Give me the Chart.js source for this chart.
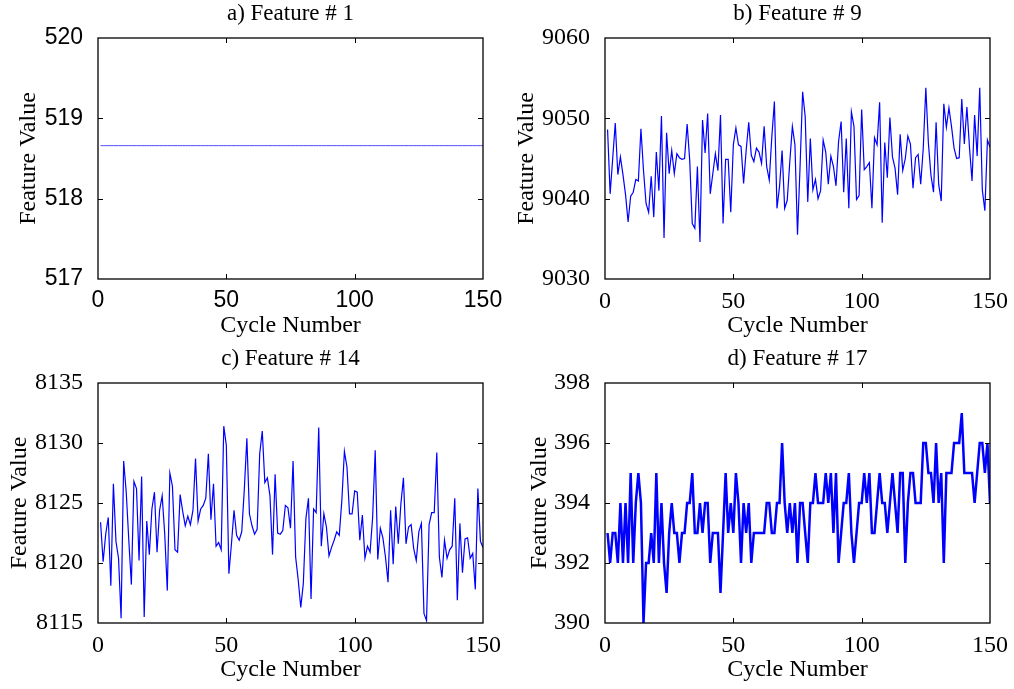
<!DOCTYPE html>
<html lang="en">
<head>
    <meta charset="UTF-8">
    <title>Feature values vs cycle number</title>
    <style>
        body {
            margin: 0;
            background: #fff;
        }
        canvas {
            position: absolute;
        }
    </style>
    <script src="https://cdn.jsdelivr.net/npm/chart.js"></script>
</head>
<body>
    <canvas id="chartA" width="507" height="345" style="left:0;top:0"></canvas>
    <canvas id="chartB" width="507" height="345" style="left:507px;top:0"></canvas>
    <canvas id="chartC" width="507" height="344" style="left:0;top:345px"></canvas>
    <canvas id="chartD" width="507" height="344" style="left:507px;top:345px"></canvas>

    <script>
        // Feature # 1 is flat over all 150 cycles
        const featureA = [
            518.66, 518.66, 518.66, 518.66, 518.66, 518.66, 518.66, 518.66, 518.66, 518.66,
            518.66, 518.66, 518.66, 518.66, 518.66, 518.66, 518.66, 518.66, 518.66, 518.66,
            518.66, 518.66, 518.66, 518.66, 518.66, 518.66, 518.66, 518.66, 518.66, 518.66,
            518.66, 518.66, 518.66, 518.66, 518.66, 518.66, 518.66, 518.66, 518.66, 518.66,
            518.66, 518.66, 518.66, 518.66, 518.66, 518.66, 518.66, 518.66, 518.66, 518.66,
            518.66, 518.66, 518.66, 518.66, 518.66, 518.66, 518.66, 518.66, 518.66, 518.66,
            518.66, 518.66, 518.66, 518.66, 518.66, 518.66, 518.66, 518.66, 518.66, 518.66,
            518.66, 518.66, 518.66, 518.66, 518.66, 518.66, 518.66, 518.66, 518.66, 518.66,
            518.66, 518.66, 518.66, 518.66, 518.66, 518.66, 518.66, 518.66, 518.66, 518.66,
            518.66, 518.66, 518.66, 518.66, 518.66, 518.66, 518.66, 518.66, 518.66, 518.66,
            518.66, 518.66, 518.66, 518.66, 518.66, 518.66, 518.66, 518.66, 518.66, 518.66,
            518.66, 518.66, 518.66, 518.66, 518.66, 518.66, 518.66, 518.66, 518.66, 518.66,
            518.66, 518.66, 518.66, 518.66, 518.66, 518.66, 518.66, 518.66, 518.66, 518.66,
            518.66, 518.66, 518.66, 518.66, 518.66, 518.66, 518.66, 518.66, 518.66, 518.66,
            518.66, 518.66, 518.66, 518.66, 518.66, 518.66, 518.66, 518.66, 518.66, 518.66
        ];

        const featureB = [
            9048.6, 9040.6, 9045.0, 9049.4, 9043.0, 9045.2, 9043.0, 9040.5, 9037.1, 9040.3,
            9040.8, 9042.4, 9042.2, 9048.7, 9043.5, 9039.4, 9038.3, 9042.8, 9037.7, 9045.8,
            9041.0, 9050.3, 9035.1, 9048.2, 9043.1, 9046.0, 9043.1, 9045.6, 9045.1, 9044.9,
            9045.0, 9049.3, 9044.8, 9036.9, 9036.3, 9044.0, 9034.6, 9049.8, 9045.7, 9050.6,
            9040.6, 9043.1, 9045.6, 9043.5, 9050.4, 9036.9, 9044.9, 9044.9, 9038.3, 9046.7,
            9048.8, 9046.7, 9046.5, 9041.9, 9046.0, 9049.5, 9045.4, 9044.6, 9046.3, 9045.8,
            9044.4, 9049.0, 9044.0, 9042.3, 9047.7, 9052.1, 9038.8, 9041.5, 9046.0, 9038.8,
            9039.8, 9044.6, 9049.0, 9046.7, 9035.5, 9044.0, 9053.3, 9050.2, 9039.6, 9047.5,
            9041.1, 9042.4, 9040.0, 9041.0, 9047.3, 9045.8, 9041.8, 9045.3, 9044.0, 9041.6,
            9047.1, 9049.6, 9040.8, 9047.5, 9038.8, 9050.8, 9049.0, 9039.9, 9040.4, 9051.1,
            9043.6, 9044.0, 9044.5, 9038.8, 9047.6, 9046.7, 9052.0, 9037.0, 9047.0, 9042.6,
            9050.1, 9045.2, 9043.8, 9040.5, 9048.0, 9043.5, 9045.0, 9047.8, 9046.8, 9041.3,
            9045.1, 9045.5, 9041.8, 9046.3, 9053.8, 9046.9, 9042.9, 9040.8, 9049.5, 9041.8,
            9039.7, 9051.8, 9048.9, 9051.3, 9049.0, 9046.3, 9045.0, 9045.1, 9052.4, 9046.8,
            9051.4, 9046.4, 9042.2, 9050.4, 9045.3, 9053.8, 9041.1, 9038.5, 9047.3, 9046.4
        ];

        const featureC = [
            8123.4, 8120.1, 8122.4, 8123.8, 8118.1, 8126.6, 8121.8, 8120.4, 8115.4, 8128.5,
            8125.9, 8121.9, 8118.2, 8126.8, 8126.2, 8120.2, 8127.2, 8115.5, 8123.5, 8120.7,
            8124.5, 8125.9, 8120.9, 8124.4, 8125.6, 8122.4, 8117.7, 8127.5, 8126.4, 8121.1,
            8120.9, 8125.7, 8124.3, 8123.1, 8123.9, 8123.2, 8124.4, 8128.7, 8123.5, 8124.5,
            8124.8, 8125.4, 8129.1, 8123.6, 8126.6, 8121.4, 8121.7, 8121.1, 8131.4, 8129.8,
            8119.1, 8121.6, 8124.4, 8122.3, 8121.9, 8122.6, 8126.1, 8130.4, 8124.1, 8123.1,
            8122.4, 8122.8, 8129.1, 8131.0, 8126.7, 8127.1, 8125.6, 8120.7, 8127.4, 8122.5,
            8122.4, 8122.7, 8124.8, 8124.6, 8122.9, 8128.5, 8120.5, 8118.6, 8116.3, 8118.3,
            8123.7, 8125.4, 8117.0, 8124.5, 8124.2, 8131.3, 8121.4, 8124.1, 8123.0, 8120.6,
            8121.3, 8121.9, 8122.6, 8122.3, 8125.2, 8129.3, 8128.0, 8124.1, 8124.1, 8126.0,
            8125.9, 8121.9, 8124.0, 8120.4, 8121.4, 8120.9, 8123.8, 8129.4, 8120.3, 8122.9,
            8122.1, 8120.5, 8118.4, 8124.4, 8119.9, 8124.7, 8121.6, 8124.9, 8127.1, 8121.6,
            8123.0, 8123.2, 8121.2, 8120.2, 8122.6, 8123.3, 8115.8, 8115.2, 8123.2, 8124.2,
            8124.2, 8129.2, 8120.5, 8118.8, 8121.9, 8120.4, 8121.1, 8121.4, 8125.4, 8116.9,
            8123.3, 8119.2, 8122.0, 8122.1, 8120.4, 8120.8, 8117.8, 8126.2, 8121.8, 8121.3
        ];

        const featureD = [
            393, 392, 393, 393, 392, 394, 392, 394, 392, 395,
            392, 394, 395, 394, 390, 392, 392, 393, 392, 395,
            392, 394, 392, 391, 393, 394, 393, 393, 392, 393,
            393, 394, 394, 395, 393, 393, 394, 393, 394, 394,
            392, 393, 393, 393, 391, 393, 395, 393, 394, 393,
            395, 394, 392, 394, 393, 394, 392, 393, 393, 393,
            393, 393, 394, 394, 393, 393, 394, 394, 396, 394,
            393, 394, 393, 394, 392, 394, 394, 393, 392, 394,
            394, 395, 394, 394, 394, 395, 394, 395, 393, 395,
            392, 393, 394, 394, 395, 393, 392, 393, 394, 394,
            395, 394, 395, 393, 393, 394, 395, 394, 394, 393,
            394, 395, 394, 393, 395, 395, 392, 394, 395, 395,
            394, 394, 394, 396, 396, 395, 395, 394, 396, 394,
            395, 392, 395, 395, 395, 396, 396, 396, 397, 395,
            395, 395, 395, 394, 395, 396, 396, 395, 396, 394
        ];

        // x axis: cycle number 0..150, ticks every 50
        const cycleRange = [0, 150];
        const cycleStep = 50;

        const SERIF = "'Liberation Serif', 'Times New Roman', serif";
        const SANS = "'Liberation Sans', Arial, sans-serif";

        // MATLAB-style box with inward ticks on all four sides
        const boxPlugin = {
            id: 'matlabBox',
            afterDraw(chart) {
                const ctx = chart.ctx;
                const { left, right, top, bottom } = chart.chartArea;
                const xs = chart.scales.x, ys = chart.scales.y;
                const len = 5;
                ctx.save();
                ctx.strokeStyle = '#000';
                ctx.lineWidth = 1.3;
                ctx.strokeRect(left, top, right - left, bottom - top);
                ctx.lineWidth = 1;
                ctx.beginPath();
                xs.ticks.forEach(t => {
                    const px = Math.round(xs.getPixelForValue(t.value)) + 0.5;
                    if (px <= left + 1 || px >= right - 1) return;
                    ctx.moveTo(px, bottom); ctx.lineTo(px, bottom - len);
                    ctx.moveTo(px, top); ctx.lineTo(px, top + len);
                });
                ys.ticks.forEach(t => {
                    const py = Math.round(ys.getPixelForValue(t.value)) + 0.5;
                    if (py <= top + 1 || py >= bottom - 1) return;
                    ctx.moveTo(left, py); ctx.lineTo(left + len, py);
                    ctx.moveTo(right, py); ctx.lineTo(right - len, py);
                });
                ctx.stroke();
                ctx.restore();
            }
        };

        function makeChart(id, title, values, yMin, yMax, yStep, opts) {
            const points = values.map((v, i) => ({ x: i + 1, y: v }));
            return new Chart(document.getElementById(id), {
                type: 'line',
                data: {
                    datasets: [{
                        data: points,
                        borderColor: opts.color,
                        borderWidth: opts.lineWidth,
                        pointRadius: 0,
                        tension: 0,
                        fill: false
                    }]
                },
                options: {
                    responsive: false,
                    animation: false,
                    devicePixelRatio: 1,
                    layout: { padding: { left: 0, right: 24, top: 0, bottom: 0 } },
                    plugins: {
                        legend: { display: false },
                        tooltip: { enabled: false },
                        title: {
                            display: true,
                            text: title,
                            fullSize: false,
                            color: '#000',
                            font: { family: SERIF, size: 23, weight: 'normal', lineHeight: 1.2 },
                            padding: { top: 0, bottom: 10.4 }
                        }
                    },
                    scales: {
                        x: {
                            type: 'linear',
                            min: cycleRange[0],
                            max: cycleRange[1],
                            afterFit: s => { s.height = 66; },
                            grid: { display: false },
                            border: { display: false },
                            ticks: {
                                stepSize: cycleStep,
                                maxRotation: 0,
                                color: '#000',
                                padding: 0,
                                font: opts.tickFont,
                                callback: v => String(v)
                            },
                            title: {
                                display: true,
                                text: 'Cycle Number',
                                color: '#000',
                                font: { family: SERIF, size: 24, lineHeight: 1.2 },
                                padding: { top: 0, bottom: 4.6 }
                            }
                        },
                        y: {
                            min: yMin,
                            max: yMax,
                            afterFit: s => { s.width = 98; },
                            grid: { display: false },
                            border: { display: false },
                            ticks: {
                                stepSize: yStep,
                                color: '#000',
                                padding: 7,
                                font: opts.tickFont,
                                callback: v => String(v)
                            },
                            title: {
                                display: true,
                                text: 'Feature Value',
                                color: '#000',
                                font: { family: SERIF, size: 24, lineHeight: 1.2 },
                                padding: { top: opts.yTitlePad, bottom: 0 }
                            }
                        }
                    }
                },
                plugins: [boxPlugin]
            });
        }

        const serifTicks = { family: SERIF, size: 24 };

        makeChart('chartA', 'a) Feature # 1', featureA, 517, 520, 1, {
            color: '#4a4aff', lineWidth: 1, yTitlePad: 14,
            tickFont: { family: SANS, size: 23 }
        });
        makeChart('chartB', 'b) Feature # 9', featureB, 9030, 9060, 10, {
            color: '#0000ff', lineWidth: 1.2, yTitlePad: 5.6, tickFont: serifTicks
        });
        makeChart('chartC', 'c) Feature # 14', featureC, 8115, 8135, 5, {
            color: '#0000ff', lineWidth: 1.2, yTitlePad: 5.6, tickFont: serifTicks
        });
        makeChart('chartD', 'd) Feature # 17', featureD, 390, 398, 2, {
            color: '#0000ff', lineWidth: 2.5, yTitlePad: 18.6, tickFont: serifTicks
        });
    </script>
</body>
</html>
